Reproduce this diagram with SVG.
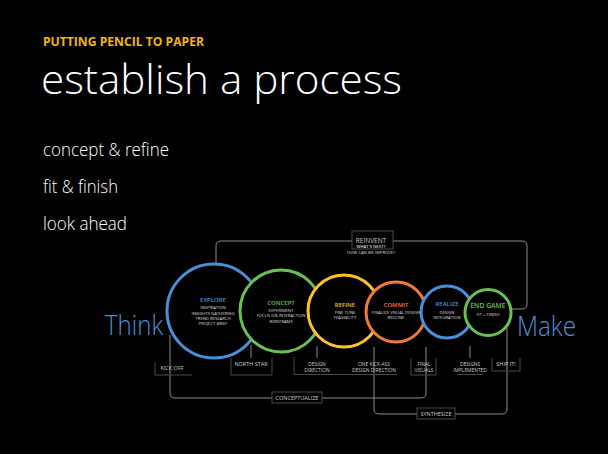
<svg xmlns="http://www.w3.org/2000/svg" width="608" height="454" viewBox="0 0 608 454">
<style>
text{font-family:"Open Sans","Liberation Sans",sans-serif}
.kicker{font-size:13px;font-weight:700;fill:#F2B705}
.head{font-size:40px;font-weight:300;fill:#fff}
.bul{font-size:18px;font-weight:300;fill:#fff}
.big{font-size:28px;font-weight:300;fill:#4A90D9}
.ring{fill:#000;stroke-width:3}
.ct{font-size:6px;font-weight:600;text-anchor:middle}
.cs{font-size:4.2px;fill:#ddd;text-anchor:middle}
.lbl{font-size:5.5px;fill:#ccc;text-anchor:middle}
.l2{font-size:4.9px;fill:#ccc;text-anchor:middle}
.conn{fill:none;stroke:#8c8c8c;stroke-width:1}
.box{fill:#000;stroke:#4a4a4a;stroke-width:1}
.brk{fill:none;stroke:#4a4a4a;stroke-width:1}
</style>
<rect width="608" height="454" fill="#000"/>
<g id="header">
<text class="kicker" x="43" y="46" textLength="161" lengthAdjust="spacingAndGlyphs">PUTTING PENCIL TO PAPER</text>
<text class="head" x="41" y="94" textLength="361" lengthAdjust="spacingAndGlyphs">establish a process</text>
<text class="bul" x="43" y="156" textLength="126" lengthAdjust="spacingAndGlyphs">concept &amp; refine</text>
<text class="bul" x="43" y="193" textLength="75" lengthAdjust="spacingAndGlyphs">fit &amp; finish</text>
<text class="bul" x="43" y="230" textLength="84" lengthAdjust="spacingAndGlyphs">look ahead</text>
</g>
<g id="connectors">
<path class="conn" d="M216 263 V246 Q216 241 221 241 H522 Q527 241 527 246 V304 Q527 309 522 309 H511"/>
<path class="conn" d="M170 335 V393 Q170 398 175 398 H421 Q426 398 426 393 V347"/>
<path class="conn" d="M374 347 V409 Q374 414 379 414 H502 Q507 414 507 409 V328"/>
<path class="conn" d="M251 345 V358 M317 346 V358 M470 346 V358"/>
</g>
<g id="think"><text class="big" x="105" y="335" textLength="58" lengthAdjust="spacingAndGlyphs">Think</text></g>
<g id="make"><text class="big" x="517" y="336" textLength="59" lengthAdjust="spacingAndGlyphs">Make</text></g>
<g id="explore">
<circle class="ring" cx="214" cy="311" r="47" stroke="#4A90D9"/>
<text class="ct" x="213" y="301.5" fill="#4A90D9">EXPLORE</text>
<text class="cs" x="213" y="309">INSPIRATION</text>
<text class="cs" x="213" y="314.5">INSIGHTS GATHERING</text>
<text class="cs" x="213" y="319.5">TREND RESEARCH</text>
<text class="cs" x="213" y="324.5">PROJECT BRIEF</text>
</g>
<g id="concept">
<circle class="ring" cx="281" cy="311" r="41" stroke="#6CBF56"/>
<text class="ct" x="281" y="305" fill="#6CBF56">CONCEPT</text>
<text class="cs" x="281" y="311.8">EXPERIMENT</text>
<text class="cs" x="281" y="317.3">FOCUS ON INTERACTION</text>
<text class="cs" x="281" y="322.5">WIREFRAME</text>
</g>
<g id="refine">
<circle class="ring" cx="344" cy="311" r="36" stroke="#FDC42A"/>
<text class="ct" x="345" y="306.5" fill="#FDC42A">REFINE</text>
<text class="cs" x="345" y="314">FINE TUNE</text>
<text class="cs" x="345" y="319.2">FEASIBILITY</text>
</g>
<g id="commit">
<circle class="ring" cx="396" cy="312" r="30" stroke="#F37A3A"/>
<text class="ct" x="396" y="306.5" fill="#F37A3A">COMMIT</text>
<text class="cs" x="396" y="314">FINALIZE VISUAL DESIGN</text>
<text class="cs" x="396" y="319.2">REDLINE</text>
</g>
<g id="realize">
<circle class="ring" cx="447" cy="312" r="26" stroke="#4A90D9"/>
<text class="ct" x="447" y="306.2" fill="#4A90D9">REALIZE</text>
<text class="cs" x="447" y="313.8">DESIGN</text>
<text class="cs" x="447" y="318.8">INTEGRATION</text>
</g>
<g id="endgame">
<circle class="ring" cx="488" cy="312.5" r="23" stroke="#6CBF56"/>
<text class="ct" x="488" y="308.3" fill="#6CBF56" style="font-size:6.8px">END GAME</text>
<text class="cs" x="488" y="315.8">FIT + FINISH</text>
</g>
<g id="reinvent">
<rect class="box" x="352" y="231" width="41" height="18"/>
<text class="lbl" x="371" y="243" style="font-size:6.5px">REINVENT</text>
<text class="cs" x="371" y="248.3" style="font-weight:600">WHAT'S NEXT?</text>
<text class="cs" x="371" y="254.3">HOW CAN WE IMPROVE?</text>
</g>
<g id="kickoff">
<path class="brk" d="M155 362 V375 H192"/>
<text class="lbl" x="172" y="370">KICK OFF</text>
</g>
<g id="northstar">
<path class="brk" d="M231 358 V375 H272 V358"/>
<text class="lbl" x="251" y="366">NORTH STAR</text>
</g>
<g id="designdirection">
<path class="brk" d="M294 357 V374.5 H397"/>
<text class="l2" x="317" y="365.5">DESIGN</text>
<text class="l2" x="317" y="372">DIRECTION</text>
</g>
<g id="onekickass">
<text class="l2" x="374" y="365.5">ONE KICK-ASS</text>
<text class="l2" x="374" y="372">DESIGN DIRECTION</text>
</g>
<g id="finalvisuals">
<path class="brk" d="M411 358 V375 H436 V358"/>
<text class="l2" x="424" y="365.5">FINAL</text>
<text class="l2" x="424" y="372">VISUALS</text>
</g>
<g id="designsimplemented">
<path class="brk" d="M457 374.5 H483"/>
<text class="l2" x="470" y="365.5">DESIGNS</text>
<text class="l2" x="470" y="372">IMPLEMENTED</text>
</g>
<g id="shipit">
<path class="brk" d="M492 358 V371 H520 V358"/>
<text class="lbl" x="506" y="366">SHIP IT!</text>
</g>
<g id="conceptualize">
<rect class="box" x="272" y="392" width="50" height="11"/>
<text class="lbl" x="297" y="399.8">CONCEPTUALIZE</text>
</g>
<g id="synthesize">
<rect class="box" x="417" y="408" width="38" height="11"/>
<text class="lbl" x="436" y="415.8">SYNTHESIZE</text>
</g>
</svg>
